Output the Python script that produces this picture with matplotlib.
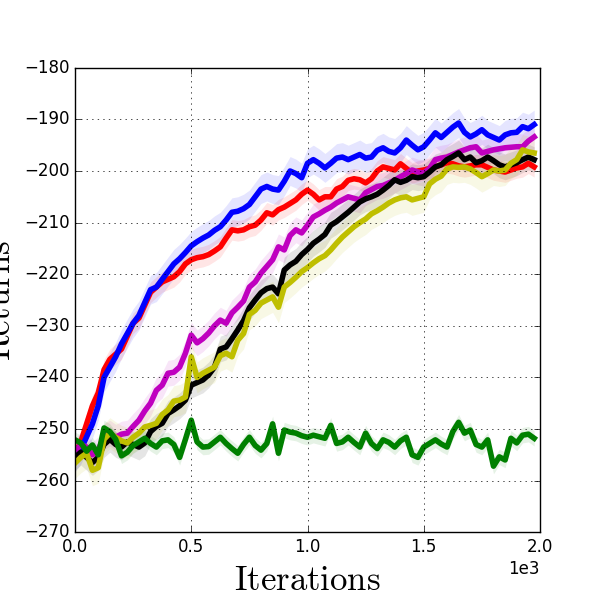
import matplotlib
matplotlib.use("Agg")
import matplotlib.pyplot as plt
import numpy as np

plt.style.use("classic")
plt.rcParams["mathtext.fontset"] = "cm"

iters = np.arange(0, 1976, 25)

blue = [-255.5, -254, -251.5, -249, -245.5, -240, -238, -236, -233.5, -231.5,
        -229.5, -228, -225.5, -223, -222.5, -221, -219.5, -218, -217, -215.8,
        -214.5, -213.7, -213, -212.4, -211.5, -210.8, -209.5, -208, -207.8, -207.3,
        -206.5, -205, -203.5, -203, -203.5, -203.7, -202, -200, -200.5, -201.3,
        -198.5, -197.8, -198.5, -199.4, -198.5, -197.5, -197.3, -197.8, -197.3, -196.8,
        -197.5, -197.3, -196, -195.5, -196.2, -196.5, -195.5, -194, -195, -195.9,
        -195.3, -194, -192.6, -193.5, -192.5, -191.5, -190.7, -192.5, -193.4, -192.8,
        -192, -193, -193.5, -194, -193, -192.6, -192.5, -191.4, -191.8, -191]

red = [-255, -252.5, -249, -245.5, -243, -238.5, -236.5, -235.5, -234.5, -232,
       -229.5, -228.5, -226, -223.5, -222.5, -221.5, -221, -220.5, -219.5, -218,
       -217.2, -216.8, -216.6, -216.2, -215.5, -214.7, -213, -211.4, -211.6, -211.4,
       -210.8, -210.5, -209.5, -208.1, -208.5, -207.5, -207, -206.3, -205.6, -204.5,
       -203.7, -204.5, -205.6, -205, -205, -203.5, -203, -201.8, -201.5, -201.7,
       -202.3, -201.5, -200, -199.2, -199.5, -199.8, -198.6, -199.5, -200.4, -200,
       -199.8, -199.5, -199.2, -198.8, -198.4, -198.6, -199, -199.2, -199, -198.8,
       -198.8, -199.3, -199.8, -200, -200.2, -199.8, -199.4, -199.2, -198.5, -199.2]

magenta = [-254.5, -253, -253.5, -255, -254, -251.5, -250.8, -251.6, -251, -250.8,
           -249.5, -248.3, -246.5, -245, -242.5, -241.5, -239.2, -239, -238, -235.3,
           -231.8, -233.3, -232.5, -231.4, -230, -228.9, -229.5, -227.5, -226.4, -225.2,
           -222.5, -221.5, -219.8, -218.5, -217.2, -214.7, -215.3, -212.5, -211.4, -212,
           -210.5, -208.9, -208.3, -207.6, -207, -206.2, -205.6, -205, -205.3, -205.6,
           -204.2, -203.6, -203, -202.8, -202.3, -201.8, -201.1, -200.5, -199.8, -200.2,
           -200.4, -199.5, -197.8, -197.5, -197.3, -196.8, -196.3, -195.9, -195.5, -195.3,
           -196.5, -196.2, -195.9, -195.7, -195.5, -195.4, -195.3, -195.3, -194.2, -193.4]

black = [-255.5, -254.5, -255.5, -256.5, -255.5, -253, -252, -253, -253.5, -252.5,
         -253, -253.5, -252.7, -250.5, -249.5, -248.9, -247, -246.3, -245.5, -244.4,
         -241.5, -241, -240.5, -239.5, -238, -234.5, -234.1, -232.5, -230.8, -229,
         -226.5, -225, -223.6, -222.8, -222.5, -223.8, -219.2, -218.2, -217.5, -216.2,
         -215.2, -214, -213.2, -212.3, -210.5, -209.8, -208.9, -208, -207, -206,
         -205.4, -205, -204.5, -203.7, -202.8, -201.7, -202.2, -201.8, -201.1, -201.3,
         -201.1, -200.2, -199.2, -198.8, -197.8, -197.2, -196.5, -197.8, -197.3, -198.4,
         -198, -197.3, -198, -198.8, -199.2, -198.8, -198.4, -197.8, -197.3, -197.8]

yellow = [-256.6, -255.5, -254.7, -258, -257.5, -252, -250.8, -251.6, -252.3, -252.7,
          -251.6, -250.8, -249.6, -249.3, -248.9, -247.2, -246.3, -244.6, -244.4, -243.8,
          -236, -240, -239.2, -238.6, -238, -235.8, -235.3, -236, -232.8, -231.5,
          -227.8, -227, -225.6, -225, -224.4, -226.4, -222.5, -221.6, -220.6, -219.5,
          -218.7, -217.8, -217, -216.4, -215.3, -214, -212.8, -211.8, -210.8, -210,
          -209.3, -208.3, -207.7, -207, -206.2, -205.6, -205.2, -205, -205.6, -205.3,
          -205, -202.5, -201.6, -201, -199.6, -199.2, -199.3, -199.2, -199.6, -200.3,
          -201.1, -200.5, -199.8, -200, -199.8, -198.5, -197.8, -195.9, -196.3, -196.5]

green = [-252.1, -252.7, -254.3, -253.1, -255, -249.8, -250.5, -252, -255.2, -254.5,
         -253.2, -252.5, -251.8, -252.8, -253.5, -252.3, -252.1, -253, -255.5, -252,
         -248.3, -252.5, -253.5, -253.4, -252.5, -251.6, -252.8, -253.8, -254.7, -253,
         -251.6, -253.2, -254.1, -252.8, -249, -254.7, -250.2, -250.6, -250.8, -251.3,
         -251.6, -251.2, -251.5, -251.8, -249.3, -252.8, -252.5, -251.6, -252.6, -253.5,
         -250.8, -252.8, -253.8, -252.1, -252.6, -253.5, -252.3, -251.6, -255, -255.5,
         -253.5, -252.8, -252.1, -252.9, -253.5, -250.5, -248.7, -250.8, -250.2, -253,
         -253.5, -252.1, -257.2, -255.4, -256, -251.8, -252.7, -251.2, -251, -251.8]

# half-width of the shaded band for each run
spread = {"r": 2.0, "b": 2.8, "m": 2.5, "k": 2.5, "y": 3.0, "g": 1.5}

series = [(red, "r"), (blue, "b"), (magenta, "m"), (black, "k"), (yellow, "y"), (green, "g")]

fig = plt.figure(figsize=(6, 6), dpi=100, facecolor="white")
ax = fig.add_axes([0.125, 0.113, 0.775, 0.774])

for vals, c in series:
    vals = np.array(vals)
    ax.fill_between(iters, vals - spread[c], vals + spread[c], color=c, alpha=0.1, linewidth=0)
    ax.plot(iters, vals, color=c, linewidth=4)

ax.set_xlim(0, 2000)
ax.set_ylim(-270, -180)
ax.set_xticks([0, 500, 1000, 1500, 2000])
ax.ticklabel_format(axis="x", style="sci", scilimits=(0, 0))
ax.grid(True)
ax.set_xlabel(r"$\mathrm{Iterations}$", fontsize=25)
ax.set_ylabel(r"$\mathrm{Returns}$", fontsize=25)

fig.savefig("out.png", dpi=100, facecolor="white")
